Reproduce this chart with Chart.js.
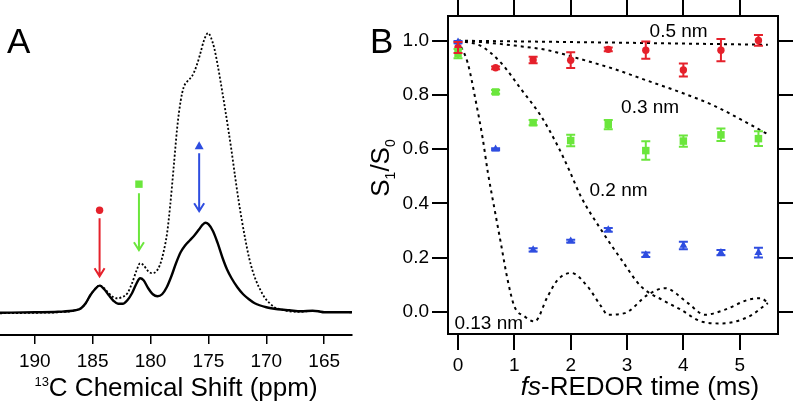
<!DOCTYPE html>
<html>
<head>
<meta charset="utf-8">
<script src="https://cdn.jsdelivr.net/npm/chart.js@4.4.1/dist/chart.umd.min.js"></script>
<style>
  html, body { margin: 0; padding: 0; background: #fff; }
  body { width: 793px; height: 403px; position: relative; overflow: hidden; }
  #boxA { position: absolute; left: 0; top: 0; }
  #boxB { position: absolute; left: 360px; top: 0; }
</style>
</head>
<body>
<div id="boxA"><canvas id="chartA" width="360" height="403"></canvas></div>
<div id="boxB"><canvas id="chartB" width="433" height="403"></canvas></div>
<script>
var FONT = "'Liberation Sans', Arial, sans-serif";
var RED = '#e5212b', GREEN = '#6be63c', BLUE = '#2e4de0';

// ---- panel A : 13C spectra ----
var shiftTicks = [190, 185, 180, 175, 170, 165];

var solidPpm = [193, 190, 188, 186.5, 186, 185.6, 185.2, 184.8, 184.4, 184.0, 183.6, 183.2, 182.8, 182.4, 182.0,
  181.6, 181.2, 180.9, 180.6, 180.2, 179.8, 179.4, 179.0, 178.6, 178.2, 177.8, 177.4, 177.0, 176.6, 176.2,
  175.8, 175.5, 175.25, 175.0, 174.6, 174.2, 173.8, 173.4, 173.0, 172.5, 172.0, 171.5, 171.0, 170.0, 169.0,
  168.0, 167.0, 166.0, 165.5, 165.0, 163.0, 162.6];
var solidInt = [0.5, 1, 1.5, 3, 5, 10, 18, 24, 27.6, 24, 18, 12.5, 9.5, 9.5, 13,
  20, 30, 35, 33, 25, 19, 17, 19, 26, 37, 50, 61, 68, 73, 78,
  84, 88.5, 90.5, 89, 82, 70, 56, 44, 35, 26, 19, 14, 10, 6, 4,
  3, 2, 2.5, 2, 1, 1, 1];

var dottedPpm = [193, 190, 188, 186.5, 186, 185.6, 185.2, 184.8, 184.4, 184.0, 183.6, 183.2, 182.9, 182.5, 182.0,
  181.6, 181.2, 180.9, 180.6, 180.2, 179.86, 179.5, 179.2, 178.9, 178.57, 178.3, 178.0, 177.7, 177.4, 177.13,
  176.8, 176.41, 176.0, 175.69, 175.4, 175.03, 174.8, 174.5, 174.2, 173.9, 173.6, 173.3, 173.0, 172.7, 172.4,
  172.1, 171.8, 171.5, 171.2, 170.9, 170.5, 170.1, 169.7, 169.3, 168.8, 168.0, 167.0, 166.0, 165.0, 162.6];
var dottedInt = [0, 0.5, 1, 3, 5, 10, 18, 24, 28, 25, 20, 16, 15, 16, 20,
  30, 43, 50, 48, 42, 40, 42, 48, 60, 80, 108, 146, 185, 212, 226,
  232, 237, 248, 260, 272, 280, 276, 265, 248, 228, 207, 185, 162, 137, 113,
  92, 73, 56, 43, 33, 23, 15, 10, 6, 4, 2, 1.5, 2.5, 1.5, 1];

var arrowPpm = [184.4, 181.0, 175.8];
var arrowMarkInt = [103, 129, 167];
var arrowTopInt = [95, 120, 160];
var arrowEndInt = [37, 63, 102];
var arrowColors = [RED, GREEN, BLUE];
var arrowMarks = ['circle', 'rect', 'triangle'];

// ---- panel B : REDOR decay ----
var timeMs = [0, 0.667, 1.333, 2.0, 2.667, 3.333, 4.0, 4.667, 5.333];
var redVal = [0.975, 0.90, 0.929, 0.928, 0.968, 0.965, 0.892, 0.965, 1.001];
var redErr = [0.02, 0.005, 0.012, 0.029, 0.007, 0.032, 0.024, 0.041, 0.02];
var greenVal = [0.952, 0.811, 0.698, 0.632, 0.691, 0.595, 0.63, 0.653, 0.639];
var greenErr = [0.017, 0.007, 0.01, 0.021, 0.017, 0.034, 0.021, 0.023, 0.027];
var blueVal = [0.995, 0.60, 0.229, 0.261, 0.303, 0.211, 0.245, 0.219, 0.219];
var blueErr = [0.004, 0.004, 0.006, 0.005, 0.007, 0.008, 0.014, 0.01, 0.018];

var fit05T = [0, 2.75, 5.5];
var fit05V = [1.0, 0.993, 0.985];
var fit03T = [0, 0.41, 1.0, 1.59, 2.18, 2.78, 3.37, 3.96, 4.55, 5.15, 5.5];
var fit03V = [1.0, 0.995, 0.982, 0.965, 0.932, 0.895, 0.852, 0.809, 0.76, 0.695, 0.655];
var fit02T = [0, 0.41, 0.76, 1.12, 1.47, 1.77, 1.98, 2.18, 2.54, 2.9, 3.25, 3.67, 3.96, 4.32, 4.67, 5.15, 5.5];
var fit02V = [1.0, 0.98, 0.919, 0.821, 0.723, 0.612, 0.52, 0.426, 0.303, 0.193, 0.094, 0.040, 0.008, -0.035, -0.042, -0.018, 0.033];
var fit013T = [0, 0.17, 0.32, 0.44, 0.53, 0.65, 0.76, 0.88, 1.0, 1.18, 1.36, 1.59, 1.77, 2.01, 2.30, 2.54, 2.66, 2.96,
  3.37, 3.67, 4.08, 4.38, 4.73, 5.15, 5.38, 5.5];
var fit013V = [1.0, 0.919, 0.772, 0.637, 0.514, 0.377, 0.254, 0.119, 0.021, -0.016, -0.035, 0.057, 0.119, 0.144, 0.094, 0.021, -0.01, -0.004,
  0.064, 0.088, 0.033, -0.01, 0.008, 0.045, 0.051, 0.033];

var timeTicks = [0, 1, 2, 3, 4, 5];
var ratioTicks = [0, 0.2, 0.4, 0.6, 0.8, 1.0];
var fitLabels = ['0.5 nm', '0.3 nm', '0.2 nm', '0.13 nm'];
var fitLabelX = [3.40, 2.895, 2.334, -0.064];
var fitLabelY = [1.015, 0.733, 0.426, -0.063];

function pts(xs, ys) {
  return xs.map(function (x, i) { return { x: x, y: ys[i] }; });
}

function drawMark(ctx, style, x, y, color) {
  ctx.fillStyle = color;
  ctx.beginPath();
  if (style === 'circle') {
    ctx.arc(x, y, 3.7, 0, Math.PI * 2);
  } else if (style === 'rect') {
    ctx.rect(x - 3.7, y - 3.7, 7.4, 7.4);
  } else {
    ctx.moveTo(x, y - 5);
    ctx.lineTo(x + 4.5, y + 3);
    ctx.lineTo(x - 4.5, y + 3);
    ctx.closePath();
  }
  ctx.fill();
}

// arrows, panel letter and axis title of panel A
var panelAExtras = {
  id: 'panelAExtras',
  afterDraw: function (chart) {
    var ctx = chart.ctx, xs = chart.scales.x, ys = chart.scales.y, ca = chart.chartArea;
    ctx.save();
    arrowPpm.forEach(function (ppm, i) {
      var x = xs.getPixelForValue(ppm);
      var yTop = ys.getPixelForValue(arrowTopInt[i]);
      var yEnd = ys.getPixelForValue(arrowEndInt[i]);
      ctx.strokeStyle = arrowColors[i];
      ctx.lineWidth = 2;
      ctx.beginPath();
      ctx.moveTo(x, yTop);
      ctx.lineTo(x, yEnd);
      ctx.moveTo(x - 5, yEnd - 8);
      ctx.lineTo(x, yEnd);
      ctx.lineTo(x + 5, yEnd - 8);
      ctx.stroke();
      drawMark(ctx, arrowMarks[i], x, ys.getPixelForValue(arrowMarkInt[i]), arrowColors[i]);
    });

    ctx.fillStyle = '#000';
    ctx.textBaseline = 'alphabetic';
    ctx.textAlign = 'left';
    ctx.font = '35px ' + FONT;
    ctx.fillText('A', 7, 53);

    // 13C Chemical Shift (ppm)
    var sup = '13', main = 'C Chemical Shift (ppm)';
    ctx.font = '13px ' + FONT;
    var wSup = ctx.measureText(sup).width;
    ctx.font = '26px ' + FONT;
    var wMain = ctx.measureText(main).width;
    var x0 = (ca.left + ca.right) / 2 - (wSup + wMain) / 2;
    var base = 396;
    ctx.font = '13px ' + FONT;
    ctx.fillText(sup, x0, base - 10);
    ctx.font = '26px ' + FONT;
    ctx.fillText(main, x0 + wSup, base);
    ctx.restore();
  }
};

new Chart(document.getElementById('chartA'), {
  type: 'scatter',
  data: {
    datasets: [
      {
        data: pts(solidPpm, solidInt),
        showLine: true, pointRadius: 0, borderColor: '#000', borderWidth: 2.4,
        cubicInterpolationMode: 'monotone'
      },
      {
        data: pts(dottedPpm, dottedInt),
        showLine: true, pointRadius: 0, borderColor: '#000', borderWidth: 1.8,
        borderDash: [2, 2], cubicInterpolationMode: 'monotone'
      }
    ]
  },
  options: {
    responsive: false,
    devicePixelRatio: 1,
    animation: false,
    layout: { autoPadding: false, padding: { left: 0, right: 8, top: 10, bottom: 0 } },
    plugins: { legend: { display: false }, tooltip: { enabled: false } },
    scales: {
      x: {
        type: 'linear', position: 'bottom', reverse: true, min: 162.6, max: 193,
        afterBuildTicks: function (s) { s.ticks = shiftTicks.map(function (v) { return { value: v }; }); },
        afterFit: function (s) { s.height = 68; },
        grid: { drawOnChartArea: false, drawTicks: true, tickLength: 9, color: '#000', lineWidth: 1.5 },
        border: { display: true, color: '#000', width: 2 },
        ticks: { color: '#000', font: { family: FONT, size: 19 }, padding: 6, maxRotation: 0, autoSkip: false }
      },
      y: { display: false, min: -21.7, max: 303 }
    }
  },
  plugins: [panelAExtras]
});

// error bars, labels and titles of panel B
var panelBExtras = {
  id: 'panelBExtras',
  afterDatasetsDraw: function (chart) {
    var ctx = chart.ctx, xs = chart.scales.x, ys = chart.scales.y;
    ctx.save();
    chart.data.datasets.forEach(function (ds) {
      if (!ds.errors) return;
      ctx.strokeStyle = ds.backgroundColor;
      ctx.lineWidth = 2;
      ds.data.forEach(function (p, i) {
        var x = xs.getPixelForValue(p.x);
        var y1 = ys.getPixelForValue(p.y + ds.errors[i]);
        var y2 = ys.getPixelForValue(p.y - ds.errors[i]);
        ctx.beginPath();
        ctx.moveTo(x, y1); ctx.lineTo(x, y2);
        ctx.moveTo(x - 4.5, y1); ctx.lineTo(x + 4.5, y1);
        ctx.moveTo(x - 4.5, y2); ctx.lineTo(x + 4.5, y2);
        ctx.stroke();
      });
    });
    ctx.restore();
  },
  afterDraw: function (chart) {
    var ctx = chart.ctx, xs = chart.scales.x, ys = chart.scales.y, ca = chart.chartArea;
    ctx.save();
    ctx.fillStyle = '#000';
    ctx.textBaseline = 'alphabetic';
    ctx.textAlign = 'left';

    ctx.font = '19px ' + FONT;
    fitLabels.forEach(function (t, i) {
      ctx.fillText(t, xs.getPixelForValue(fitLabelX[i]), ys.getPixelForValue(fitLabelY[i]));
    });

    ctx.font = '35px ' + FONT;
    ctx.fillText('B', 10, 53);

    // fs-REDOR time (ms)
    ctx.font = 'italic 26px ' + FONT;
    var wIt = ctx.measureText('fs').width;
    ctx.font = '26px ' + FONT;
    var wRest = ctx.measureText('-REDOR time (ms)').width;
    var x0 = (ca.left + ca.right) / 2 + 27 - (wIt + wRest) / 2;
    ctx.font = 'italic 26px ' + FONT;
    ctx.fillText('fs', x0, 395);
    ctx.font = '26px ' + FONT;
    ctx.fillText('-REDOR time (ms)', x0 + wIt, 395);

    // S1/S0, rotated
    var parts = [['S', 26, 0], ['1', 14, 6], ['/S', 26, 0], ['0', 14, 6]];
    var total = 0;
    parts.forEach(function (p) { ctx.font = p[1] + 'px ' + FONT; p.push(ctx.measureText(p[0]).width); total += p[3]; });
    ctx.translate(29, (ca.top + ca.bottom) / 2 - 7);
    ctx.rotate(-Math.PI / 2);
    var cx = -total / 2;
    parts.forEach(function (p) {
      ctx.font = p[1] + 'px ' + FONT;
      ctx.fillText(p[0], cx, p[2]);
      cx += p[3];
    });
    ctx.restore();
  }
};

function frameGrid(len) {
  return { drawOnChartArea: false, drawTicks: true, tickLength: len, color: '#000', lineWidth: 2 };
}
var frameBorder = { display: true, color: '#000', width: 2 };
var tickFont = { family: FONT, size: 19 };

function curve(t, v) {
  return {
    data: pts(t, v), showLine: true, pointRadius: 0, borderColor: '#000', borderWidth: 2,
    borderDash: [3, 4], cubicInterpolationMode: 'monotone'
  };
}

new Chart(document.getElementById('chartB'), {
  type: 'scatter',
  data: {
    datasets: [
      { data: pts(timeMs, blueVal), errors: blueErr, pointStyle: 'triangle', pointRadius: 4.6,
        backgroundColor: BLUE, borderColor: BLUE, borderWidth: 0 },
      { data: pts(timeMs, greenVal), errors: greenErr, pointStyle: 'rect', pointRadius: 5.3,
        backgroundColor: GREEN, borderColor: GREEN, borderWidth: 0 },
      { data: pts(timeMs, redVal), errors: redErr, pointStyle: 'circle', pointRadius: 3.7,
        backgroundColor: RED, borderColor: RED, borderWidth: 0 },
      curve(fit05T, fit05V),
      curve(fit03T, fit03V),
      curve(fit02T, fit02V),
      curve(fit013T, fit013V)
    ]
  },
  options: {
    responsive: false,
    devicePixelRatio: 1,
    animation: false,
    layout: { autoPadding: false, padding: 0 },
    plugins: { legend: { display: false }, tooltip: { enabled: false } },
    scales: {
      x: {
        type: 'linear', position: 'bottom', min: -0.178, max: 5.68,
        afterBuildTicks: function (s) { s.ticks = timeTicks.map(function (v) { return { value: v }; }); },
        afterFit: function (s) { s.height = 69; },
        grid: frameGrid(16), border: frameBorder,
        ticks: { color: '#000', font: tickFont, padding: 4, maxRotation: 0, autoSkip: false }
      },
      x2: {
        axis: 'x', type: 'linear', position: 'top', min: -0.178, max: 5.68,
        afterBuildTicks: function (s) { s.ticks = timeTicks.map(function (v) { return { value: v }; }); },
        afterFit: function (s) { s.height = 16; },
        grid: frameGrid(16), border: frameBorder, ticks: { display: false }
      },
      y: {
        type: 'linear', position: 'left', min: -0.081, max: 1.091,
        afterBuildTicks: function (s) { s.ticks = ratioTicks.map(function (v) { return { value: v }; }); },
        afterFit: function (s) { s.width = 88; },
        grid: frameGrid(16), border: frameBorder,
        ticks: { color: '#000', font: tickFont, padding: 3,
          callback: function (v) { return Number(v).toFixed(1); } }
      },
      y2: {
        axis: 'y', type: 'linear', position: 'right', min: -0.081, max: 1.091,
        afterBuildTicks: function (s) { s.ticks = ratioTicks.map(function (v) { return { value: v }; }); },
        afterFit: function (s) { s.width = 15; },
        grid: frameGrid(16), border: frameBorder, ticks: { display: false }
      }
    }
  },
  plugins: [panelBExtras]
});
</script>
</body>
</html>
